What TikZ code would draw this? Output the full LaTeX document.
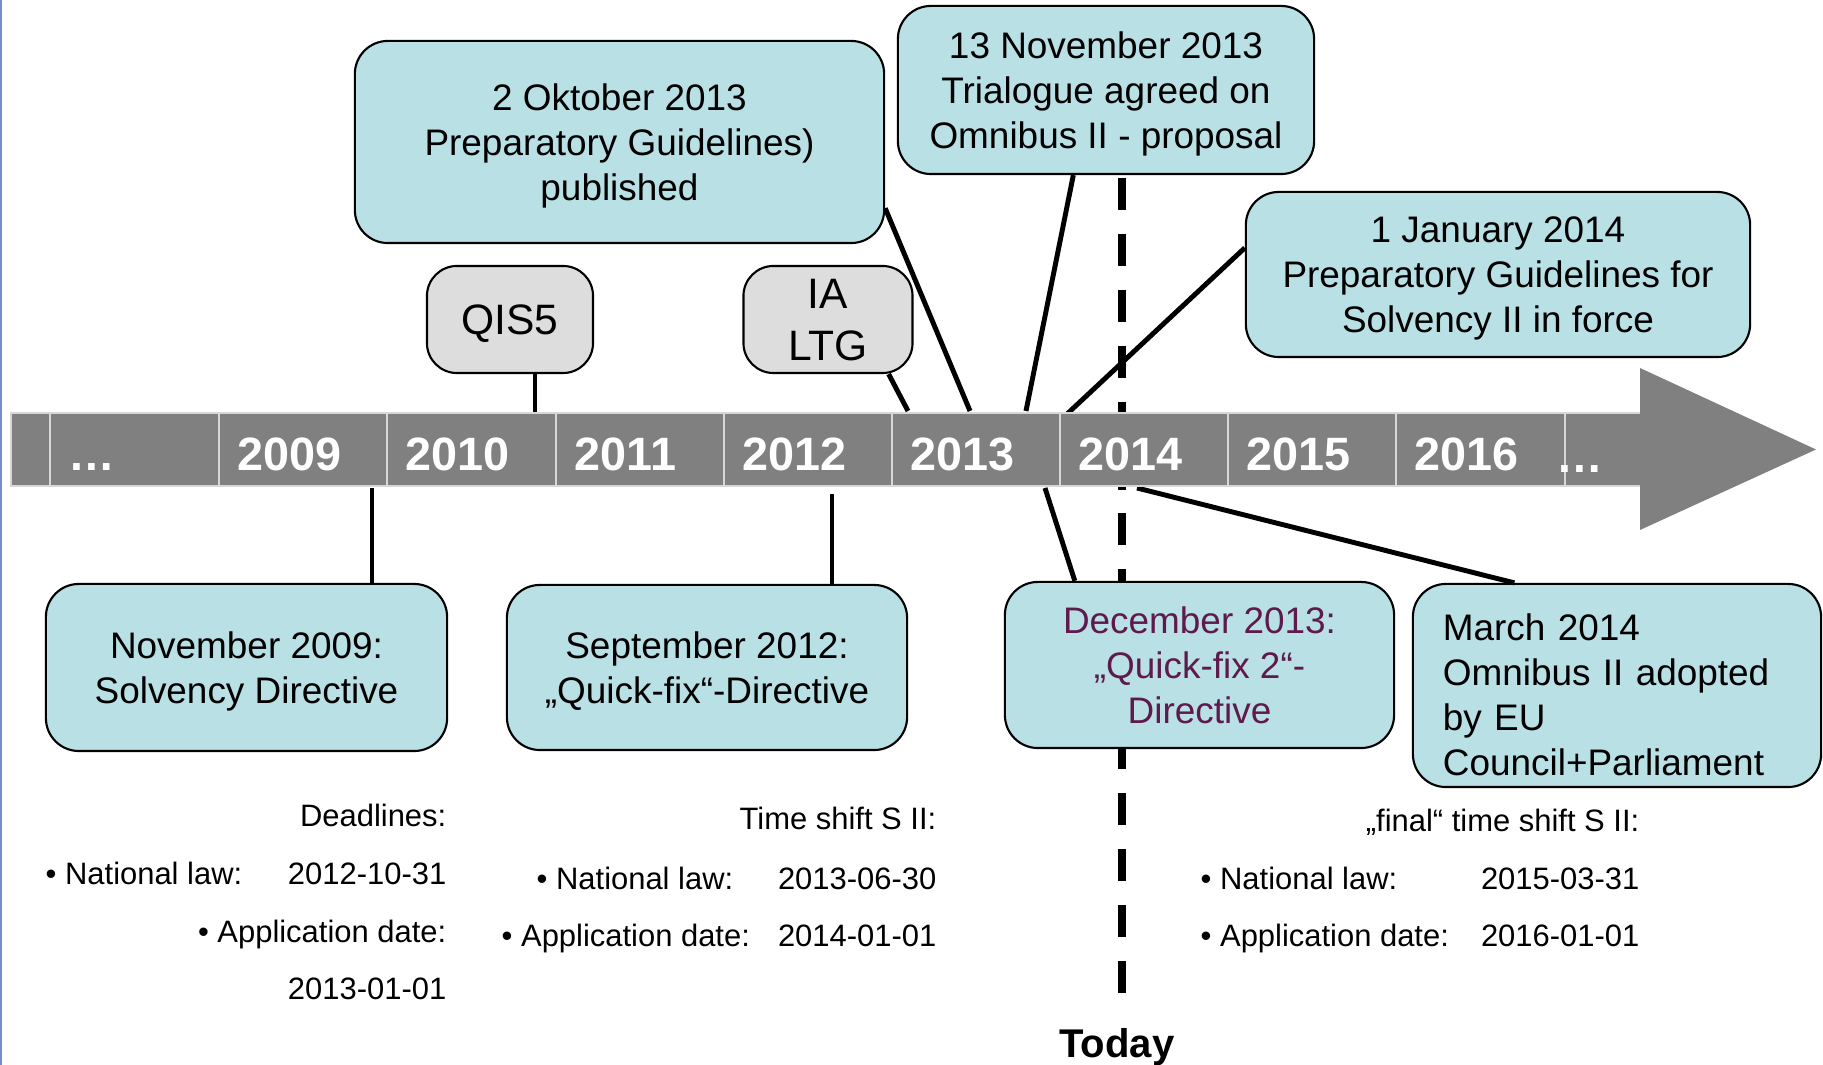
\documentclass[tikz,border=0pt]{standalone}
\usepackage{fontspec}
\setmainfont{Liberation Sans}
\usepackage{tikz}
\usetikzlibrary{positioning,calc}
\definecolor{boxblue}{RGB}{185,224,228}
\definecolor{boxgrey}{RGB}{221,221,221}
\definecolor{barfill}{RGB}{128,128,128}
\definecolor{cellline}{RGB}{215,215,215}
\definecolor{datepurple}{RGB}{94,26,76}
\definecolor{edgeblue}{RGB}{120,140,200}
\tikzset{evbox/.style={draw=black,line width=0.6pt,fill=boxblue,rounded corners=0.33cm,align=center,inner sep=0pt,text depth=0pt,font=\fontsize{10.5}{12.8}\selectfont}}
\tikzset{greybox/.style={evbox,fill=boxgrey,rounded corners=0.3cm,font=\fontsize{12.1}{14.8}\selectfont}}
\tikzset{yearcell/.style={fill=barfill,draw=cellline,line width=0.8pt}}
\tikzset{yearlbl/.style={anchor=base west,inner sep=0pt,text=white,font=\bfseries\fontsize{13.3}{16}\selectfont}}
\tikzset{conn/.style={line width=1.4pt}}
\tikzset{note/.style={inner sep=0pt,font=\fontsize{8.8}{10.5}\selectfont}}

\begin{document}
\begin{tikzpicture}[x=0.01cm,y=-0.01cm]
\useasboundingbox (0,0) rectangle (1823,1065);
\draw[edgeblue,line width=0.8pt] (1,0) -- (1,1065);

% today line
\coordinate (todaytop) at (1122,178);
\coordinate (todaybot) at (1122,993);
\draw[line width=2pt,dash pattern=on 9.1pt off 6.8pt] (todaytop) -- (todaybot);
\node[anchor=base,inner sep=0pt,font=\bfseries\fontsize{11.4}{13}\selectfont] (today) at (1117,1058) {Today};

% event boxes above the bar
\node[evbox,minimum width=5.29cm,minimum height=2.02cm] (oct) at (619.5,142) {2 Oktober 2013\\Preparatory Guidelines)\\published};
\node[evbox,minimum width=4.16cm,minimum height=1.68cm] (tri) at (1106,90) {13 November 2013\\Trialogue agreed on\\Omnibus II - proposal};
\node[evbox,minimum width=5.04cm,minimum height=1.65cm] (jan) at (1498,274.5) {1 January 2014\\Preparatory Guidelines for\\Solvency II in force};
\node[greybox,minimum width=1.66cm,minimum height=1.07cm] (qis) at (510,319.5) {QIS5};
\node[greybox,minimum width=1.69cm,minimum height=1.07cm] (ia) at (828,319.5) {IA\\LTG};

% event boxes below the bar
\node[evbox,minimum width=4.01cm,minimum height=1.67cm] (sd) at (246.5,667.5) {November 2009:\\Solvency Directive};
\node[evbox,minimum width=4.00cm,minimum height=1.65cm] (qf) at (707,667.5) {September 2012:\\„Quick-fix“-Directive};
\node[evbox,minimum width=3.89cm,minimum height=1.66cm,text=datepurple] (qftwo) at (1199.5,665) {December 2013:\\„Quick-fix 2“-\\Directive};
\node[evbox,text depth={},align=left,text width=3.48cm,inner xsep=0.3cm,minimum height=2.03cm] (om) at (1617,685.5) {\rule{0pt}{12.7pt}March 2014\\Omnibus II adopted\\by EU\\Council+Parliament};

% connector ends on the bar
\coordinate (qisfoot) at (535,413);
\coordinate (iafoot) at (908,411);
\coordinate (octfoot) at (970,411);
\coordinate (trifoot) at (1026,411);
\coordinate (janfoot) at (1066,415);
\coordinate (sdtop) at (372,488);
\coordinate (qftop) at (832,494);
\coordinate (qftwotop) at (1045,488);
\coordinate (omtop) at (1137,488);

\draw[conn] (qis.south -| qisfoot) -- (qisfoot);
\draw[conn] (ia.-42) -- (iafoot);
\draw[conn] (oct.-14.2) -- (octfoot);
\draw[conn] (tri.-111.4) -- (trifoot);
\draw[conn] (jan.174.9) -- (janfoot);
\draw[conn] (sd.north -| sdtop) -- (sdtop);
\draw[conn] (qf.north -| qftop) -- (qftop);
\draw[conn] (qftwo.146.7) -- (qftwotop);
\draw[conn] (om.135.4) -- (omtop);

% time bar
\foreach \a/\b/\lbl [count=\i] in {11/50/{},50/219/…,219/387/2009,387/556/2010,556/724/2011,724/892/2012,892/1060/2013,1060/1228/2014,1228/1396/2015,1396/1565/2016}{
  \draw[yearcell] (\a,413) rectangle (\b,486);
  \node[yearlbl] (yr\i) at (\a+18,471) {\lbl};
}
\draw[yearcell] (1565,413) rectangle (1642,486);
\fill[barfill] (1640,368) -- (1816,449.5) -- (1640,530) -- cycle;
\node[yearlbl] (yrend) at (1556,473) {…};

% deadlines
\node[note,anchor=base east] (dl) at (447,827) {Deadlines:};
\node[note,anchor=base west] (dlnat) at (45,885) {• National law:};
\node[note,anchor=base east] (dlnatd) at (447,885) {2012-10-31};
\node[note,anchor=base east] (dlapp) at (447,943) {• Application date:};
\node[note,anchor=base east] (dlappd) at (447,1000) {2013-01-01};

\node[note,anchor=base east] (ts) at (937,830) {Time shift S II:};
\node[note,anchor=base west] (tsnat) at (536,890) {• National law:};
\node[note,anchor=base east] (tsnatd) at (937,890) {2013-06-30};
\node[note,anchor=base west] (tsapp) at (501,947) {• Application date:};
\node[note,anchor=base east] (tsappd) at (937,947) {2014-01-01};

\node[note,anchor=base east] (fs) at (1640,832) {„final“ time shift S II:};
\node[note,anchor=base west] (fsnat) at (1200,890) {• National law:};
\node[note,anchor=base east] (fsnatd) at (1640,890) {2015-03-31};
\node[note,anchor=base west] (fsapp) at (1200,947) {• Application date:};
\node[note,anchor=base east] (fsappd) at (1640,947) {2016-01-01};
\end{tikzpicture}
\end{document}
